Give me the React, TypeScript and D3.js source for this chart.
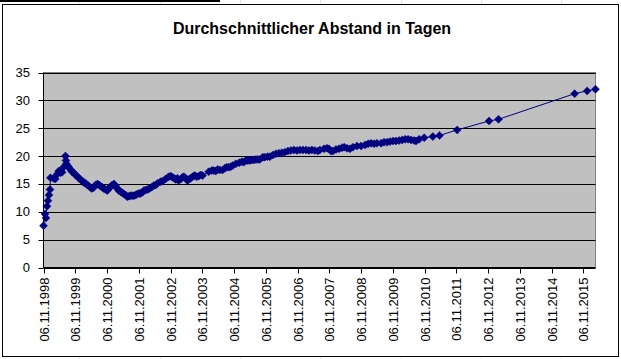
import * as d3 from "d3";
import React from "react";

// readings of the series (date, average gap in days)
const dates = [
  "1998-11-06", "1998-11-23", "1998-12-04", "1998-12-16", "1998-12-27", "1999-01-08", "1999-01-20", "1999-01-25",
  "1999-03-01", "1999-03-22", "1999-04-15", "1999-04-30", "1999-05-19", "1999-06-08", "1999-06-23", "1999-07-16",
  "1999-07-22", "1999-07-27", "1999-08-08", "1999-08-23", "1999-09-12", "1999-09-29", "1999-10-20", "1999-11-09",
  "1999-12-02", "1999-12-19", "2000-01-06", "2000-01-29", "2000-02-16", "2000-03-04", "2000-03-26", "2000-04-18",
  "2000-05-11", "2000-06-03", "2000-06-26", "2000-07-19", "2000-08-06", "2000-08-23", "2000-09-12", "2000-09-27",
  "2000-10-20", "2000-11-09", "2000-11-24", "2000-12-17", "2001-01-04", "2001-01-24", "2001-02-13", "2001-03-04",
  "2001-03-21", "2001-04-10", "2001-04-30", "2001-05-18", "2001-06-07", "2001-06-26", "2001-07-17", "2001-08-03",
  "2001-08-23", "2001-09-11", "2001-09-30", "2001-10-20", "2001-11-10", "2001-11-27", "2001-12-20", "2002-01-04",
  "2002-01-24", "2002-02-16", "2002-03-10", "2002-04-02", "2002-04-28", "2002-05-18", "2002-06-10", "2002-07-14",
  "2002-08-06", "2002-09-10", "2002-10-15", "2002-11-08", "2002-11-27", "2002-12-18", "2003-01-05", "2003-01-24",
  "2003-02-08", "2003-03-03", "2003-03-25", "2003-04-09", "2003-04-29", "2003-05-18", "2003-06-02", "2003-06-25",
  "2003-07-18", "2003-08-10", "2003-09-02", "2003-09-25", "2003-10-18", "2003-11-10", "2004-01-19", "2004-02-23",
  "2004-03-16", "2004-04-08", "2004-05-01", "2004-05-24", "2004-06-25", "2004-07-21", "2004-08-13", "2004-09-06",
  "2004-09-29", "2004-10-22", "2004-11-26", "2005-01-03", "2005-02-03", "2005-02-26", "2005-03-21", "2005-04-12",
  "2005-05-05", "2005-05-28", "2005-06-20", "2005-07-13", "2005-08-05", "2005-08-28", "2005-10-02", "2005-10-25",
  "2005-11-25", "2005-12-22", "2006-01-26", "2006-03-01", "2006-04-04", "2006-05-08", "2006-06-12", "2006-07-16",
  "2006-08-20", "2006-09-24", "2006-10-29", "2006-12-02", "2007-01-06", "2007-02-10", "2007-03-16", "2007-04-19",
  "2007-05-23", "2007-06-27", "2007-07-20", "2007-09-05", "2007-10-09", "2007-11-01", "2007-11-24", "2007-12-17",
  "2008-01-21", "2008-02-25", "2008-03-30", "2008-04-25", "2008-05-27", "2008-06-30", "2008-08-04", "2008-09-19",
  "2008-11-05", "2008-12-21", "2009-01-25", "2009-02-28", "2009-04-04", "2009-05-07", "2009-06-23", "2009-07-27",
  "2009-08-31", "2009-10-04", "2009-11-08", "2009-12-12", "2010-01-16", "2010-02-20", "2010-03-26", "2010-04-29",
  "2010-06-02", "2010-07-07", "2010-07-30", "2010-09-03", "2010-10-31", "2011-02-08", "2011-04-25", "2011-11-15",
  "2012-11-15", "2013-03-04", "2015-07-27", "2015-12-18", "2016-03-23",
];

const values = [
  7.5, 9.6, 8.9, 11.0, 12.0, 13.0, 14.0, 16.1,
  16.0, 15.9, 16.8, 17.3, 17.0, 17.1, 18.0, 20.0,
  19.2, 18.6, 18.3, 18.0, 17.6, 17.2, 17.0, 16.6,
  16.3, 16.0, 15.8, 15.5, 15.2, 15.1, 14.8, 14.5,
  14.2, 14.3, 14.8, 15.0, 14.8, 14.6, 14.4, 14.2,
  14.0, 13.8, 14.2, 14.5, 14.8, 15.0, 14.6, 14.2,
  13.8, 13.6, 13.4, 13.2, 13.0, 12.7, 12.8, 12.9,
  12.9, 12.9, 13.0, 13.2, 13.3, 13.3, 13.5, 13.8,
  13.9, 14.0, 14.2, 14.4, 14.7, 14.8, 15.1, 15.4,
  15.5, 15.9, 16.3, 16.4, 16.2, 16.0, 15.8, 16.0,
  15.6, 15.9, 16.2, 16.3, 16.0, 15.6, 15.8, 16.0,
  16.3, 16.5, 16.3, 16.4, 16.6, 16.5, 17.2, 17.4,
  17.4, 17.3, 17.6, 17.5, 17.5, 17.8, 18.0, 18.0,
  18.1, 18.3, 18.6, 18.8, 19.0, 18.9, 19.2, 19.2,
  19.2, 19.3, 19.3, 19.4, 19.4, 19.4, 19.8, 19.8,
  19.9, 19.9, 20.2, 20.4, 20.5, 20.6, 20.7, 20.9,
  21.0, 21.1, 21.0, 21.1, 21.1, 21.1, 21.0, 21.1,
  21.0, 20.9, 21.1, 21.3, 21.4, 21.3, 20.9, 20.9,
  21.2, 21.3, 21.5, 21.6, 21.4, 21.3, 21.6, 21.8,
  21.8, 22.0, 22.2, 22.3, 22.2, 22.3, 22.3, 22.5,
  22.5, 22.6, 22.7, 22.7, 22.8, 22.9, 23.0, 23.0,
  22.9, 22.8, 22.7, 23.0, 23.3, 23.5, 23.7, 24.7,
  26.3, 26.6, 31.2, 31.7, 32.0,
];

const xTickLabels = [
  "06.11.1998", "06.11.1999", "06.11.2000", "06.11.2001", "06.11.2002", "06.11.2003",
  "06.11.2004", "06.11.2005", "06.11.2006", "06.11.2007", "06.11.2008", "06.11.2009",
  "06.11.2010", "06.11.2011", "06.11.2012", "06.11.2013", "06.11.2014", "06.11.2015",
];
const yTickValues = [0, 5, 10, 15, 20, 25, 30, 35];

const title = "Durchschnittlicher Abstand in Tagen";

export default function App() {
  const width = 621;
  const height = 359;
  const plot = { left: 43.5, right: 595.5, top: 72.5, bottom: 267.5 };
  const font = "'Liberation Sans', Arial, sans-serif";
  const navy = "#000080";

  const parseIso = d3.timeParse("%Y-%m-%d");
  const parseLabel = d3.timeParse("%d.%m.%Y");
  const points = dates.map((d, i) => ({ date: parseIso(d), value: values[i] }));

  const x = d3
    .scaleTime()
    .domain([points[0].date, points[points.length - 1].date])
    .range([plot.left, plot.right]);
  const y = d3.scaleLinear().domain([0, 35]).range([plot.bottom, plot.top]);

  const line = d3
    .line()
    .x((p) => x(p.date))
    .y((p) => y(p.value));

  const diamond = "M0,-4L4,0L0,4L-4,0Z";
  // faint spreadsheet cell lines behind the chart object
  const sheetCols = [79, 160, 240, 320, 401, 481, 561];

  return (
    <div style={{ position: "absolute", left: 0, top: 0 }}>
      <svg width={width} height={height} style={{ display: "block" }}>
        <rect width={width} height={height} fill="#ffffff" />
        {sheetCols.map((c) => (
          <line key={c} x1={c + 0.5} y1={0} x2={c + 0.5} y2={height} stroke="#e4e4e4" />
        ))}
        <line x1={0} y1={1} x2={220} y2={1} stroke="#000" strokeWidth={2} />

        {/* chart object */}
        <rect x={2.5} y={4.5} width={616} height={352} fill="#ffffff" stroke="#000" strokeWidth={1} />

        <text
          x={312}
          y={34}
          textAnchor="middle"
          fontFamily={font}
          fontWeight="bold"
          fontSize={16}
          fill="#000"
        >
          {title}
        </text>

        {/* plot area */}
        <rect
          x={plot.left}
          y={plot.top}
          width={plot.right - plot.left}
          height={plot.bottom - plot.top}
          fill="#c0c0c0"
          stroke="#808080"
        />
        {yTickValues.map((v) => (
          <g key={v}>
            <line x1={plot.left} x2={plot.right} y1={Math.round(y(v)) + 0.5} y2={Math.round(y(v)) + 0.5} stroke="#000" />
            <line x1={plot.left - 5} x2={plot.left} y1={Math.round(y(v)) + 0.5} y2={Math.round(y(v)) + 0.5} stroke="#000" />
            <text
              x={30}
              y={y(v)}
              textAnchor="end"
              dominantBaseline="central"
              fontFamily={font}
              fontSize={13}
              fill="#000"
            >
              {v}
            </text>
          </g>
        ))}
        <line x1={plot.left} x2={plot.left} y1={plot.top} y2={plot.bottom} stroke="#000" />
        <line x1={plot.left} x2={plot.right} y1={plot.bottom} y2={plot.bottom} stroke="#000" />

        {xTickLabels.map((label) => {
          const tx = Math.round(x(parseLabel(label))) + 0.5;
          return (
            <g key={label}>
              <line x1={tx} x2={tx} y1={plot.bottom} y2={plot.bottom + 6} stroke="#000" />
              <text
                transform={`translate(${tx},${plot.bottom + 10}) rotate(-90)`}
                textAnchor="end"
                dominantBaseline="central"
                fontFamily={font}
                fontSize={13}
                fill="#000"
              >
                {label}
              </text>
            </g>
          );
        })}

        {/* series */}
        <path d={line(points)} fill="none" stroke={navy} strokeWidth={1} />
        {points.map((p, i) => (
          <path
            key={i}
            d={diamond}
            transform={`translate(${x(p.date)},${y(p.value)})`}
            fill={navy}
            stroke={navy}
            strokeWidth={0.5}
          />
        ))}
      </svg>
    </div>
  );
}
